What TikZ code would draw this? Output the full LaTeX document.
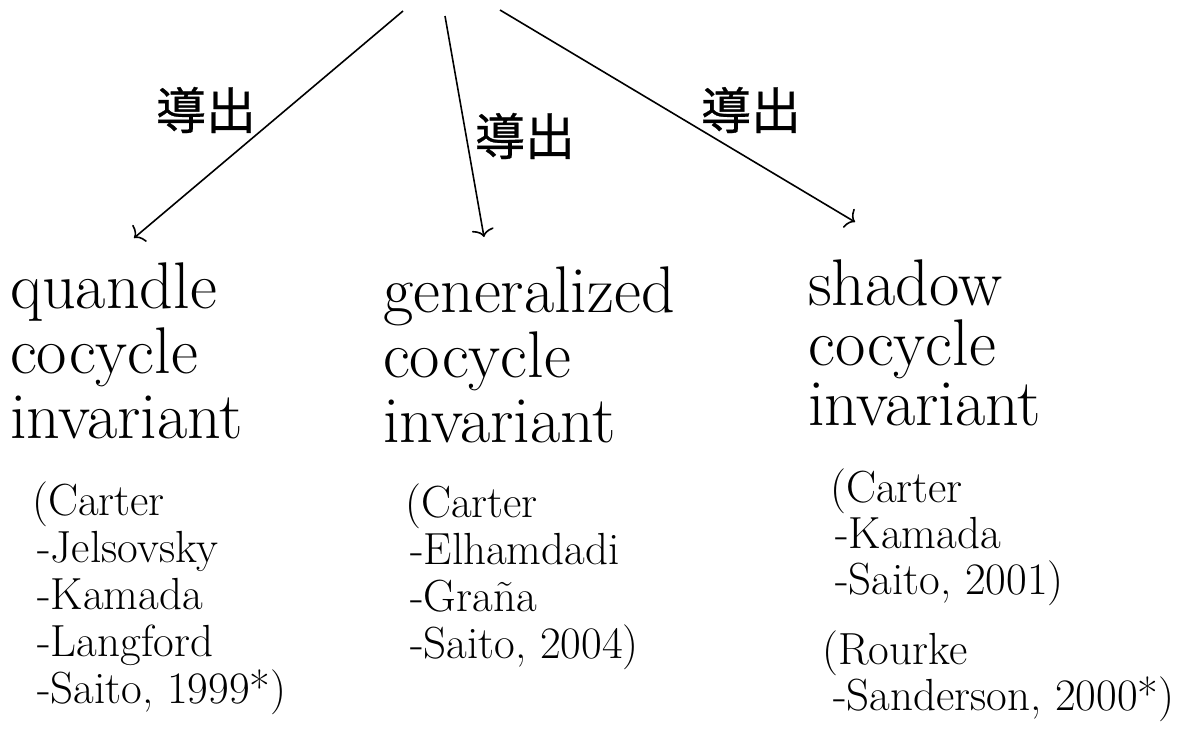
\documentclass[tikz,border=0pt]{standalone}
\usepackage{fontspec}
\newfontfamily\cjk[FakeBold=0.6]{Noto Sans CJK JP}
\usetikzlibrary{arrows.meta}
\newcommand{\ind}{\hspace*{5pt}}
\begin{document}
\begin{tikzpicture}[x=1pt,y=-1pt,
  big/.style={anchor=base west, align=left, inner sep=0pt, font=\fontsize{66}{65}\selectfont},
  bigr/.style={big, font=\fontsize{66}{60}\selectfont},
  cite/.style={anchor=base west, align=left, inner sep=0pt, font=\fontsize{45}{47}\selectfont},
  citer/.style={cite, font=\fontsize{45}{46}\selectfont},
  lbl/.style={inner sep=0pt, font=\cjk\fontsize{50}{50}\selectfont},
  arr/.style={line width=1.6pt, -{To[length=8pt,width=22pt]}}]
\useasboundingbox (0,0) rectangle (1187,734);
% arrow origins and ends
\coordinate (sL) at (403,11);
\coordinate (sM) at (445,16);
\coordinate (sR) at (500,10);
\coordinate (eL) at (134,238);
\coordinate (eM) at (484,237);
\coordinate (eR) at (855,222);
\draw[arr] (sL) -- (eL);
\draw[arr] (sM) -- (eM);
\draw[arr] (sR) -- (eR);
\node[lbl] (lL) at (206,110) {導出};
\node[lbl] (lM) at (525,136) {導出};
\node[lbl] (lR) at (751,110) {導出};
% main texts (anchored at last baseline)
\node[big] (qci) at (10,438) {quandle\\cocycle\\invariant};
\node[big] (gci) at (383,442) {generalized\\cocycle\\invariant};
\node[bigr] (sci) at (808,425) {shadow\\cocycle\\invariant};
% citations (anchored at last baseline)
\node[cite] (cL) at (32,703) {(Carter\\\ind-Jelsovsky\\\ind-Kamada\\\ind-Langford\\\ind-Saito, 1999*)};
\node[cite] (cM) at (405,658) {(Carter\\\ind-Elhamdadi\\\ind-Gra\~na\\\ind-Saito, 2004)};
\node[citer] (cR1) at (830,594) {(Carter\\\ind-Kamada\\\ind-Saito, 2001)};
\node[citer] (cR2) at (822,710) {(Rourke\\\hspace*{11pt}-Sanderson, 2000*)};
\end{tikzpicture}
\end{document}
